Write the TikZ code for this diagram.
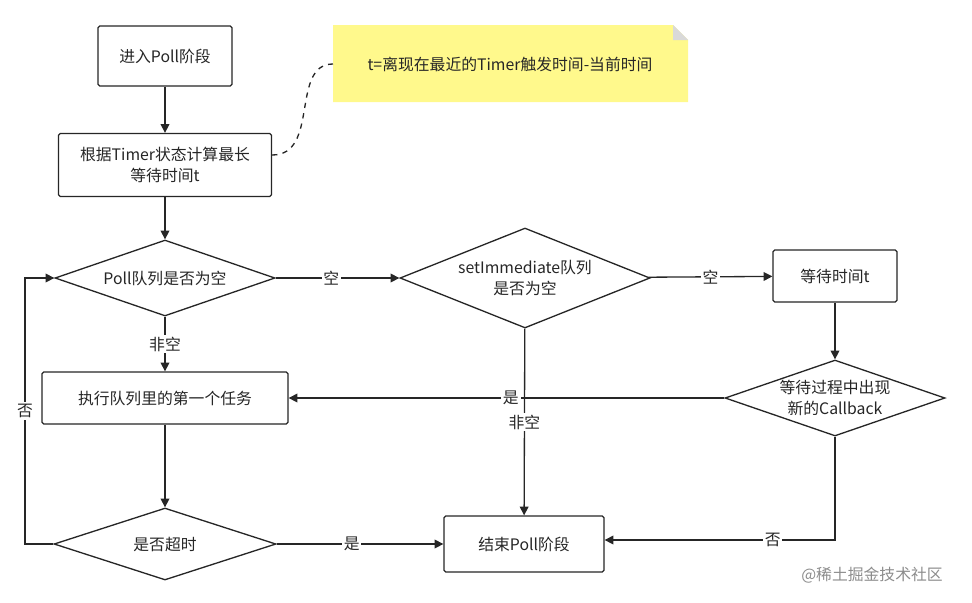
\documentclass[tikz,border=0pt]{standalone}
\usepackage{fontspec}
\setmainfont{Noto Sans CJK SC}
\usetikzlibrary{shapes.geometric,arrows.meta}
\begin{document}
\begin{tikzpicture}[x=0.02cm,y=-0.02cm,
  every node/.style={font=\fontsize{9}{11.5}\selectfont,text=black!85,align=center},
  box/.style={draw=black!85,line width=0.75pt,rounded corners=1pt,fill=white},
  dia/.style={draw=black!85,line width=0.75pt,diamond,aspect=2.9,inner sep=0pt,fill=white},
  arr/.style={draw=black!85,line width=0.75pt,-{Triangle[length=5pt,width=5pt]}},
  lab/.style={fill=white,inner sep=1pt}]
\useasboundingbox (0,0) rectangle (972,602);
\node[box,minimum width=134*0.02cm,minimum height=60*0.02cm] (start) at (165,56) {进入Poll阶段};
\node[box,minimum width=213*0.02cm,minimum height=63*0.02cm] (calc) at (165,165) {根据Timer状态计算最长\\等待时间t};
\fill[yellow!45] (333,25) -- (673,25) -- (688,40) -- (688,102) -- (333,102) -- cycle;
\fill[black!15] (673,25) -- (688,40) -- (673,40) -- cycle;
\node (note) at (510,64) {t=离现在最近的Timer触发时间-当前时间};
\coordinate (noteL) at (333,64);
\draw[dashed,line width=0.75pt,black!85] (calc.east) ++(0,-10) coordinate (cE) .. controls (320,155) and (290,64) .. (noteL);
\node[dia,minimum width=220*0.02cm,minimum height=76*0.02cm] (d1) at (165,278) {Poll队列是否为空};
\node[dia,minimum width=250*0.02cm,minimum height=100*0.02cm,aspect=2.5] (d2) at (525,278) {setImmediate队列\\是否为空};
\node[box,minimum width=124*0.02cm,minimum height=52*0.02cm] (wait) at (835,276) {等待时间t};
\node[dia,minimum width=220*0.02cm,minimum height=76*0.02cm] (d3) at (835,398) {等待过程中出现\\新的Callback};
\node[box,minimum width=246*0.02cm,minimum height=52*0.02cm] (exec) at (165,398) {执行队列里的第一个任务};
\node[dia,minimum width=222*0.02cm,minimum height=72*0.02cm] (d4) at (165,544) {是否超时};
\node[box,minimum width=160*0.02cm,minimum height=56*0.02cm] (end) at (524,544) {结束Poll阶段};
\draw[arr] (start) -- (calc);
\draw[arr] (calc) -- (d1);
\draw[arr] (d1) -- node[lab,pos=0.45]{空} (d2);
\draw[arr] (d2) -- node[lab,pos=0.5]{空} (wait);
\draw[arr] (wait) -- (d3);
\draw[arr] (d1) -- node[lab,pos=0.5]{非空} (exec);
\draw[arr] (d3) -- node[lab,pos=0.49]{是} (exec);
\draw[arr] (d2) -- node[lab,pos=0.5]{非空} (end);
\draw[arr] (exec) -- (d4);
\draw[arr] (d4) -- node[lab,pos=0.45]{是} (end);
\draw[arr] (d3.south) -- (835,540) -- node[lab,pos=0.27]{否} (end.east|-835,540);
\draw[arr] (d4.west) -- (25,544) -- node[lab,pos=0.5]{否} (25,278) -- (d1.west);
\node[text=black!45,font=\fontsize{9}{11}\selectfont] (wm) at (872,575) {@稀土掘金技术社区};
\end{tikzpicture}
\end{document}
